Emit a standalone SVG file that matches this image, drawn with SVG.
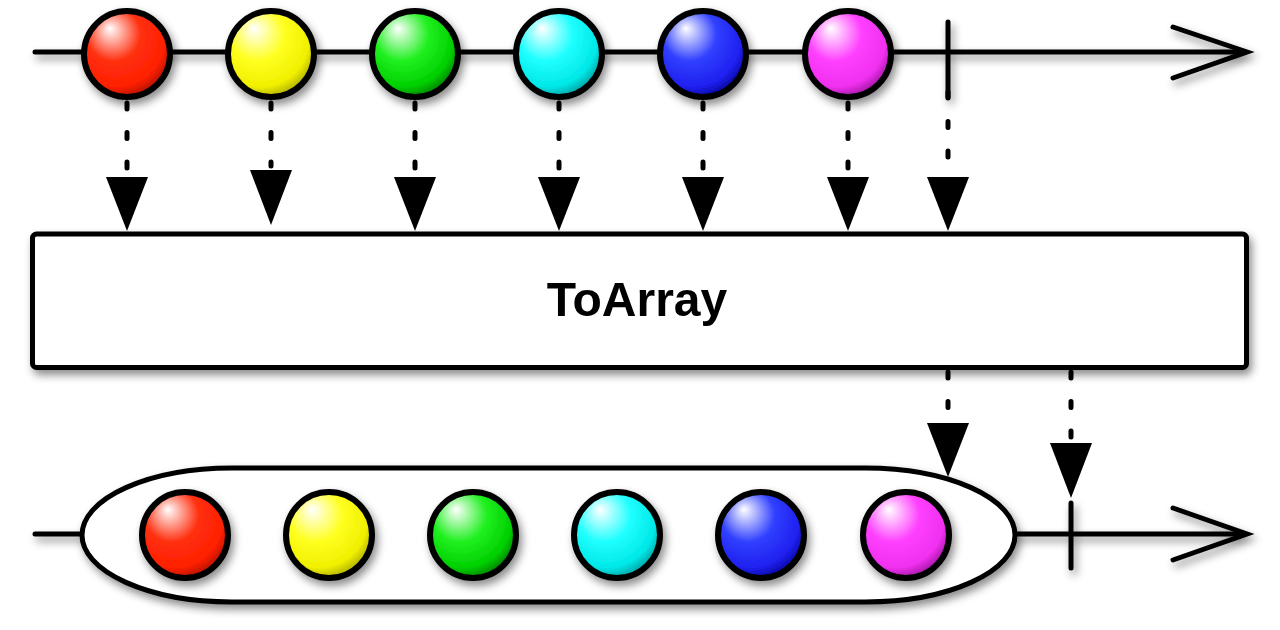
<svg xmlns="http://www.w3.org/2000/svg" width="1280" height="630" viewBox="0 0 1280 630">
<defs>
<filter id="sh" x="-20%" y="-20%" width="140%" height="150%">
<feDropShadow dx="3" dy="5" stdDeviation="4" flood-color="#000" flood-opacity="0.45"/>
</filter>
<radialGradient id="gRed" cx="0.4" cy="0.35" r="0.7" fx="0.3" fy="0.2">
<stop offset="0" stop-color="#ffffff"/><stop offset="0.45" stop-color="#ff3010"/><stop offset="0.8" stop-color="#ff2000"/><stop offset="1" stop-color="#a01000"/>
</radialGradient>
<radialGradient id="gYel" cx="0.4" cy="0.35" r="0.7" fx="0.3" fy="0.2">
<stop offset="0" stop-color="#ffffff"/><stop offset="0.45" stop-color="#ffff20"/><stop offset="0.8" stop-color="#f0f000"/><stop offset="1" stop-color="#a0a000"/>
</radialGradient>
<radialGradient id="gGrn" cx="0.4" cy="0.35" r="0.7" fx="0.3" fy="0.2">
<stop offset="0" stop-color="#ffffff"/><stop offset="0.45" stop-color="#20f020"/><stop offset="0.8" stop-color="#00d000"/><stop offset="1" stop-color="#007000"/>
</radialGradient>
<radialGradient id="gCyn" cx="0.4" cy="0.35" r="0.7" fx="0.3" fy="0.2">
<stop offset="0" stop-color="#ffffff"/><stop offset="0.45" stop-color="#20ffff"/><stop offset="0.8" stop-color="#00e8e8"/><stop offset="1" stop-color="#009090"/>
</radialGradient>
<radialGradient id="gBlu" cx="0.4" cy="0.35" r="0.7" fx="0.3" fy="0.2">
<stop offset="0" stop-color="#ffffff"/><stop offset="0.45" stop-color="#3040ff"/><stop offset="0.8" stop-color="#2020f0"/><stop offset="1" stop-color="#000090"/>
</radialGradient>
<radialGradient id="gMag" cx="0.4" cy="0.35" r="0.7" fx="0.3" fy="0.2">
<stop offset="0" stop-color="#ffffff"/><stop offset="0.45" stop-color="#ff40ff"/><stop offset="0.8" stop-color="#f030f0"/><stop offset="1" stop-color="#901090"/>
</radialGradient>
</defs>
<style>
.tl{fill:none;stroke:#000;stroke-width:5;stroke-linecap:round;stroke-linejoin:miter}
.m{stroke:#000;stroke-width:6}
.d{fill:none;stroke:#000;stroke-width:5;stroke-linecap:round;stroke-dasharray:6 23.5}
.ah{fill:#000}
.bar{stroke:#000;stroke-width:5;stroke-linecap:round}
.box{fill:#fff;stroke:#000;stroke-width:5}
.lbl{font-family:"Liberation Sans",Arial,sans-serif;font-weight:bold;font-size:48px;fill:#000}
</style>

<g id="connectors">
<path class="d" d="M127,103V172"/>
<path class="d" d="M271,103V166"/>
<path class="d" d="M415,103V172"/>
<path class="d" d="M559,103V172"/>
<path class="d" d="M703,103V172"/>
<path class="d" d="M848,103V172"/>
<path class="d" d="M948,92V172"/>
<path class="ah" d="M106,177H148L127,231Z"/>
<path class="ah" d="M250,170H292L271,225Z"/>
<path class="ah" d="M394,177H436L415,231Z"/>
<path class="ah" d="M538,177H580L559,231Z"/>
<path class="ah" d="M682,177H724L703,231Z"/>
<path class="ah" d="M827,177H869L848,231Z"/>
<path class="ah" d="M927,177H969L948,231Z"/>
<path class="d" d="M948,372V418"/>
<path class="d" d="M1071,372V438"/>
<path class="ah" d="M927,423H969L948,477Z"/>
<path class="ah" d="M1050,443H1092L1071,498Z"/>
</g>

<g id="top-timeline" filter="url(#sh)">
<path class="tl" d="M35,52H1245"/>
<path class="tl" d="M1173,27L1247,52L1173,78"/>
<line class="bar" x1="948" y1="22" x2="948" y2="97"/>
</g>

<g id="top-marbles" filter="url(#sh)">
<circle id="t1" class="m" cx="127" cy="54" r="43" fill="url(#gRed)"/>
<circle id="t2" class="m" cx="271" cy="54" r="43" fill="url(#gYel)"/>
<circle id="t3" class="m" cx="415" cy="54" r="43" fill="url(#gGrn)"/>
<circle id="t4" class="m" cx="559" cy="54" r="43" fill="url(#gCyn)"/>
<circle id="t5" class="m" cx="703" cy="54" r="43" fill="url(#gBlu)"/>
<circle id="t6" class="m" cx="848" cy="54" r="43" fill="url(#gMag)"/>
</g>

<g id="operator" filter="url(#sh)">
<rect class="box" x="32.5" y="234" width="1214" height="133.5" rx="4"/>
<text class="lbl" x="637" y="316" text-anchor="middle">ToArray</text>
</g>

<g id="bottom-timeline" filter="url(#sh)">
<path class="tl" d="M35,534H1245"/>
<path class="tl" d="M1173,508L1247,534L1173,560"/>
<line class="bar" x1="1071" y1="503" x2="1071" y2="568"/>
</g>

<g id="array" filter="url(#sh)">
<rect class="box" x="82" y="468" width="933" height="134" rx="150" ry="67"/>
</g>

<g id="bottom-marbles" filter="url(#sh)">
<circle id="b1" class="m" cx="185" cy="535" r="43" fill="url(#gRed)"/>
<circle id="b2" class="m" cx="329" cy="535" r="43" fill="url(#gYel)"/>
<circle id="b3" class="m" cx="473" cy="535" r="43" fill="url(#gGrn)"/>
<circle id="b4" class="m" cx="617" cy="535" r="43" fill="url(#gCyn)"/>
<circle id="b5" class="m" cx="761" cy="535" r="43" fill="url(#gBlu)"/>
<circle id="b6" class="m" cx="906" cy="535" r="43" fill="url(#gMag)"/>
</g>
</svg>
